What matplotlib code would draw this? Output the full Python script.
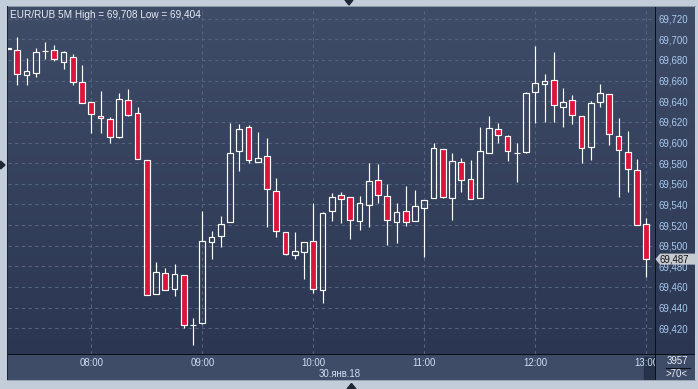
import numpy as np
import pandas as pd
import matplotlib
matplotlib.use("Agg")
import matplotlib.pyplot as plt
from matplotlib.patches import Polygon, Rectangle
from matplotlib.lines import Line2D

# ---------------- data ----------------
times = pd.date_range("2018-01-30 07:15", periods=70, freq="5min")
opens = [69.691, 69.690, 69.665, 69.6676, 69.6885, 69.6893, 69.6783, 69.6826, 69.6583, 69.639,
         69.6254, 69.6225, 69.6056, 69.6409, 69.6283, 69.5828, 69.4529, 69.4733, 69.4578, 69.4713,
         69.4232, 69.4248, 69.5033, 69.5091, 69.5227, 69.5915, 69.6147, 69.5808, 69.5872, 69.5527,
         69.513, 69.4907, 69.4936, 69.5043, 69.4568, 69.5333, 69.5488, 69.5469, 69.5236, 69.5391,
         69.5634, 69.5479, 69.5233, 69.5333, 69.5236, 69.5362, 69.5459, 69.5934, 69.5459, 69.5808,
         69.5643, 69.5459, 69.5895, 69.6128, 69.606, 69.5895, 69.5905, 69.6492, 69.6564, 69.6603,
         69.6341, 69.6409, 69.6254, 69.5953, 69.639, 69.6467, 69.606, 69.5905, 69.5731, 69.5207]
highs = [69.691, 69.7025, 69.682, 69.6913, 69.6974, 69.6945, 69.6887, 69.6855, 69.6751, 69.639,
         69.6499, 69.6244, 69.648, 69.6518, 69.6341, 69.5828, 69.4839, 69.4784, 69.4823, 69.4713,
         69.4297, 69.5336, 69.5142, 69.5288, 69.6186, 69.6179, 69.617, 69.6102, 69.6044, 69.5656,
         69.513, 69.5133, 69.5033, 69.5411, 69.533, 69.5508, 69.552, 69.5469, 69.5482, 69.5801,
         69.5792, 69.5598, 69.5411, 69.5578, 69.554, 69.544, 69.5992, 69.5934, 69.5895, 69.5847,
         69.583, 69.615, 69.6257, 69.6189, 69.607, 69.5992, 69.6486, 69.6935, 69.6661, 69.6877,
         69.6525, 69.6457, 69.6254, 69.6399, 69.6564, 69.6467, 69.6234, 69.6109, 69.5837, 69.5265]
lows = [69.691, 69.6557, 69.6557, 69.6638, 69.6809, 69.6793, 69.6715, 69.656, 69.638, 69.6095,
        69.6095, 69.5992, 69.6047, 69.626, 69.5837, 69.4519, 69.4529, 69.4568, 69.4515, 69.4205,
        69.404, 69.4238, 69.4874, 69.4984, 69.5227, 69.5727, 69.5798, 69.5808, 69.5184, 69.5081,
        69.4913, 69.4874, 69.468, 69.4545, 69.4448, 69.5239, 69.5223, 69.5068, 69.5155, 69.5184,
        69.5417, 69.501, 69.503, 69.5194, 69.5236, 69.4888, 69.5459, 69.5465, 69.5252, 69.5523,
        69.545, 69.5459, 69.5895, 69.5992, 69.5818, 69.5614, 69.5895, 69.6186, 69.6202, 69.6202,
        69.6147, 69.6182, 69.5804, 69.5833, 69.6341, 69.5973, 69.5475, 69.5523, 69.5198, 69.470]
closes = [69.691, 69.666, 69.669, 69.6874, 69.689, 69.6806, 69.6874, 69.6589, 69.638, 69.6273,
          69.6234, 69.605, 69.6419, 69.6269, 69.5837, 69.4519, 69.4742, 69.4568, 69.4723, 69.4229,
          69.4232, 69.5043, 69.5081, 69.5207, 69.5895, 69.6128, 69.5828, 69.5847, 69.5547, 69.514,
          69.4922, 69.4946, 69.5033, 69.4578, 69.5314, 69.5469, 69.545, 69.5246, 69.5411, 69.5624,
          69.5488, 69.5246, 69.5324, 69.5227, 69.5382, 69.544, 69.5944, 69.5475, 69.5818, 69.5634,
          69.545, 69.5915, 69.6138, 69.607, 69.5915, 69.5895, 69.6477, 69.6574, 69.6593, 69.636,
          69.639, 69.6264, 69.5944, 69.638, 69.6477, 69.6079, 69.5924, 69.574, 69.5198, 69.487]

price_ticks = [69.42, 69.44, 69.46, 69.48, 69.50, 69.52, 69.54, 69.56, 69.58, 69.60,
               69.62, 69.64, 69.66, 69.68, 69.70, 69.72]
hour_labels = ["08:00", "09:00", "10:00", "11:00", "12:00", "13:00"]
date_label = "30.янв.18"
title = "EUR/RUB 5M High = 69,708 Low = 69,404"
last_price = 69.487
bars_count = "3957"
zoom_label = ">70<"

# ---------------- layout ----------------
W, H = 698, 389
fig = plt.figure(figsize=(W / 100, H / 100), dpi=100)
plt.rcParams["font.family"] = ["Liberation Sans", "DejaVu Sans"]
FS = 6.9

def fx(px):
    return px / W

def fy(py):
    return 1 - py / H

def hexrgb(h):
    h = h.lstrip("#")
    return np.array([int(h[i:i + 2], 16) / 255 for i in (0, 2, 4)])

# background image
bg = np.zeros((H, W, 3))
bg[:, :] = hexrgb("#c3cdda")
top, bot = hexrgb("#3f4c67"), hexrgb("#2b3752")
for r in range(7, 354):
    t = (r - 7) / (354 - 7)
    bg[r, 8:695] = top * (1 - t) + bot * t
bg[354:380, 8:695] = hexrgb("#3e4c67")
bg[6, 7:696] = hexrgb("#8c97a8")
bg[6:381, 7] = hexrgb("#1c2433")
bg[380, 7:696] = hexrgb("#9aa5b6")
bg[354, 8:695] = hexrgb("#0b0f16")
bg[7:380, 655] = hexrgb("#0b0f16")
axbg = fig.add_axes([0, 0, 1, 1], zorder=-5)
axbg.imshow(bg, extent=[0, 1, 0, 1], aspect="auto", interpolation="nearest")
axbg.axis("off")

# main axes
ymin = 69.7 - (354 - 39.3) / 1032
ymax = 69.7 - (7 - 39.3) / 1032
idx = np.arange(len(times)) - 1
xmin = (8 - 17.3) / 9.25
xmax = (655 - 17.3) / 9.25
ax = fig.add_axes([fx(8), fy(354), fx(655) - fx(8), fy(7) - fy(354)])
ax.set_facecolor("none")
ax.set_xlim(xmin, xmax)
ax.set_ylim(ymin, ymax)
for s in ax.spines.values():
    s.set_visible(False)

tick_idx = [idx[list(times.strftime("%H:%M")).index(h)] for h in hour_labels]
ax.set_xticks(tick_idx)
ax.set_yticks(price_ticks)
ax.set_yticklabels([f"{v:.3f}".replace(".", ",") for v in price_ticks])
ax.yaxis.tick_right()
ax.tick_params(axis="x", length=0, labelbottom=False)
ax.tick_params(axis="y", length=0, pad=2.5, labelsize=FS, labelcolor="#aacbf0")
ax.grid(True, color="#56637e", linestyle=(0, (3, 3)), linewidth=0.8)
ax.set_axisbelow(True)

# candles
o, h_, l_, c = map(np.array, (opens, highs, lows, closes))
body_lo = np.minimum(o, c)
body_hi = np.maximum(o, c)
lw = 0.85
ax.vlines(idx, body_hi, h_, color="white", linewidth=lw, zorder=3)
ax.vlines(idx, l_, body_lo, color="white", linewidth=lw, zorder=3)
heights = np.maximum(body_hi - body_lo, 0.00015)
fills = ["#dc143c" if cc < oo else "none" for oo, cc in zip(o, c)]
ax.bar(idx, heights, bottom=body_lo, width=0.63, color=fills,
       edgecolor="white", linewidth=lw, zorder=4)

# x-axis strip
axs = fig.add_axes([fx(8), fy(380), fx(655) - fx(8), fy(355) - fy(380)], sharex=ax)
axs.set_facecolor("none")
axs.set_ylim(380, 355)
axs.axis("off")
axs.add_patch(Rectangle((tick_idx[-1] - 0.3, 356.5), 1.6, 23, color="#263249", zorder=1))
for t, lab in zip(tick_idx, hour_labels):
    axs.text(t, 362.5, lab, ha="center", va="center", fontsize=FS, color="#cfe0f2",
             clip_on=True, zorder=2)
axs.text(34.8, 374, date_label, ha="center", va="center", fontsize=FS, color="#cfe0f2")
axs.set_xlim(xmin, xmax)

# title
fig.text(fx(10), fy(15), title, ha="left", va="center", fontsize=7.2, color="#e8eef6")

# last price tag
tag_y = 39.3 + (69.7 - last_price) * 1032
fig.patches.append(Polygon([(fx(655.5), fy(tag_y)), (fx(660), fy(tag_y - 5.5)), (fx(695), fy(tag_y - 5.5)),
                            (fx(695), fy(tag_y + 5.5)), (fx(660), fy(tag_y + 5.5))],
                           closed=True, transform=fig.transFigure, facecolor="#c6cad1",
                           edgecolor="none", zorder=5))
fig.text(fx(659), fy(tag_y), f"{last_price:.3f}".replace(".", ","), ha="left", va="center",
         fontsize=FS, color="#111111", zorder=6)

# bottom-right box
fig.text(fx(677), fy(361.5), bars_count, ha="center", va="center", fontsize=FS, color="#e8eef6")
fig.text(fx(677), fy(374), zoom_label, ha="center", va="center", fontsize=FS, color="#e8eef6")
fig.lines.append(Line2D([fx(666), fx(690)], [fy(368), fy(368)], transform=fig.transFigure,
                        color="#0b0f16", linewidth=0.8))

# frame triangles
tri = "#1e2636"
fig.patches.append(Polygon([(fx(345), fy(0)), (fx(353), fy(0)), (fx(349), fy(5))], closed=True,
                           transform=fig.transFigure, color=tri))
fig.patches.append(Polygon([(fx(0.5), fy(161)), (fx(0.5), fy(169)), (fx(5), fy(165))], closed=True,
                           transform=fig.transFigure, color=tri))
fig.patches.append(Polygon([(fx(347), fy(389)), (fx(356), fy(389)), (fx(351.5), fy(383.5))], closed=True,
                           transform=fig.transFigure, color=tri))

fig.savefig("out.png", dpi=100)
